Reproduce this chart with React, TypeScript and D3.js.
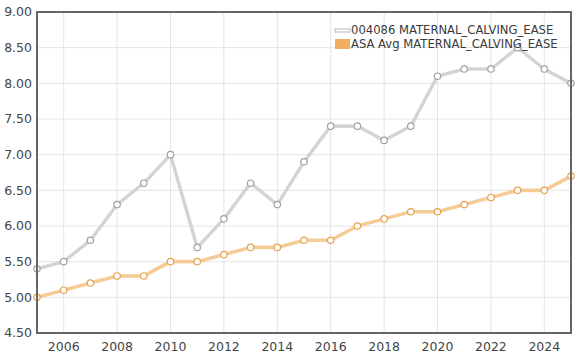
import React from "react";
import * as d3 from "d3";

const years = [2005, 2006, 2007, 2008, 2009, 2010, 2011, 2012, 2013, 2014, 2015, 2016, 2017, 2018, 2019, 2020, 2021, 2022, 2023, 2024, 2025];
const herdValues = [5.4, 5.5, 5.8, 6.3, 6.6, 7.0, 5.7, 6.1, 6.6, 6.3, 6.9, 7.4, 7.4, 7.2, 7.4, 8.1, 8.2, 8.2, 8.5, 8.2, 8.0];
const avgValues = [5.0, 5.1, 5.2, 5.3, 5.3, 5.5, 5.5, 5.6, 5.7, 5.7, 5.8, 5.8, 6.0, 6.1, 6.2, 6.2, 6.3, 6.4, 6.5, 6.5, 6.7];
const xTicks = [2006, 2008, 2010, 2012, 2014, 2016, 2018, 2020, 2022, 2024];
const yTicks = [4.5, 5.0, 5.5, 6.0, 6.5, 7.0, 7.5, 8.0, 8.5, 9.0];
const seriesNames = ["004086 MATERNAL_CALVING_EASE", "ASA Avg MATERNAL_CALVING_EASE"];

const W = 582, H = 356;
const L = 37, R = 571, T = 12, B = 333;
const font = "Verdana, 'DejaVu Sans', sans-serif";

export default function App() {
  const x = d3.scaleLinear().domain([2005, 2025]).range([L, R]);
  const y = d3.scaleLinear().domain([4.5, 9.0]).range([B, T]);
  const line = d3.line<number>().x((_, i) => x(years[i])).y((v) => y(v));

  const series = [
    { name: seriesNames[0], values: herdValues, line: "#d2d2d2", edge: "#c4c4c4", marker: "#a0a0a0" },
    { name: seriesNames[1], values: avgValues, line: "#f6ca90", edge: "#eab06a", marker: "#e9a24e" },
  ];

  return (
    <svg width={W} height={H} style={{ position: "absolute", left: 0, top: 0, background: "#fff" }}>
      <rect x={0} y={0} width={W} height={H} fill="#fff" />
      {yTicks.map((t) => (
        <line key={"gy" + t} x1={L} x2={R} y1={y(t)} y2={y(t)} stroke="#e4e4e4" strokeWidth={1} />
      ))}
      {xTicks.map((t) => (
        <line key={"gx" + t} x1={x(t)} x2={x(t)} y1={T} y2={B} stroke="#e4e4e4" strokeWidth={1} />
      ))}
      {yTicks.map((t) => (
        <text key={"ty" + t} x={32} y={y(t)} dy="0.35em" textAnchor="end" fontFamily={font} fontSize={12.5} fill="#444">
          {t.toFixed(2)}
        </text>
      ))}
      {xTicks.map((t) => (
        <text key={"tx" + t} x={x(t)} y={351} textAnchor="middle" fontFamily={font} fontSize={12.5} fill="#444">
          {t}
        </text>
      ))}
      {series.map((s) => (
        <g key={s.name}>
          <path d={line(s.values) || ""} fill="none" stroke={s.edge} strokeWidth={3.6} strokeLinejoin="round" opacity={0.6} />
          <path d={line(s.values) || ""} fill="none" stroke={s.line} strokeWidth={2.2} strokeLinejoin="round" />
          {s.values.map((v, i) => (
            <circle key={i} cx={x(years[i])} cy={y(v)} r={3.2} fill="#fff" stroke={s.marker} strokeWidth={1.2} />
          ))}
        </g>
      ))}
      <rect x={L} y={T} width={R - L} height={B - T} fill="none" stroke="#666" strokeWidth={2} />
      <g fontFamily={font} fontSize={11.6} fill="#3a3a3a">
        <rect x={335} y={29} width={15} height={3} fill="#fff" stroke="#aaa" strokeWidth={0.8} />
        <text x={351} y={30} dy="0.35em">{seriesNames[0]}</text>
        <rect x={335} y={39} width={15} height={10} fill="#f3ad5e" />
        <text x={351} y={44} dy="0.35em">{seriesNames[1]}</text>
      </g>
    </svg>
  );
}
